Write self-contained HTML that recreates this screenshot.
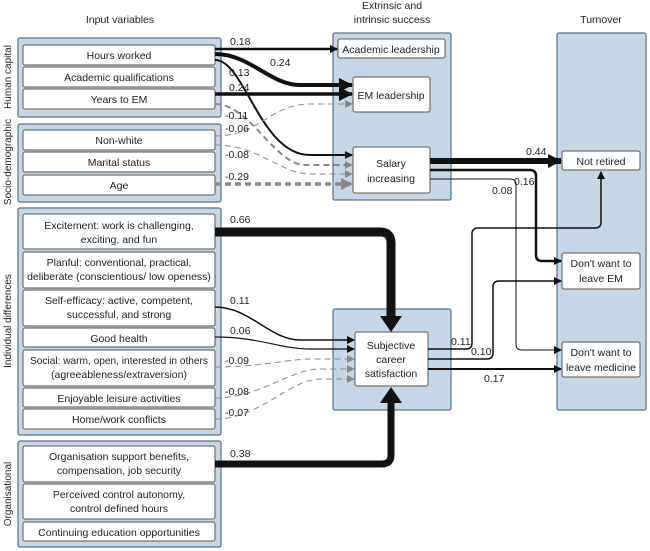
<!DOCTYPE html>
<html><head><meta charset="utf-8"><style>
body{margin:0;background:#fff}
svg{display:block;font-family:"Liberation Sans",Arial,sans-serif}
.p{fill:#c6d7e8;stroke:#5f6f80;stroke-width:1.2}
.b{fill:#fff;stroke:#555;stroke-width:1}
text{font-size:10.5px;fill:#222}
.c{text-anchor:middle}
.r{font-size:10px}
.s{fill:none;stroke:#111}
.d{fill:none;stroke:#888;stroke-dasharray:6,4}
</style></head><body>
<svg width="650" height="551" viewBox="0 0 650 551">
<defs>
<marker id="a" markerWidth="8" markerHeight="8" refX="7" refY="4" orient="auto" markerUnits="userSpaceOnUse"><path d="M0,0L8,4L0,8z" fill="#111"/></marker>
<marker id="g" markerWidth="8" markerHeight="8" refX="7" refY="4" orient="auto" markerUnits="userSpaceOnUse"><path d="M0,0L8,4L0,8z" fill="#888"/></marker>
<marker id="A" markerWidth="14" markerHeight="14" refX="13" refY="7" orient="auto" markerUnits="userSpaceOnUse"><path d="M0,0L14,7L0,14z" fill="#111"/></marker>
<marker id="G" markerWidth="12" markerHeight="12" refX="11" refY="6" orient="auto" markerUnits="userSpaceOnUse"><path d="M0,0L12,6L0,12z" fill="#888"/></marker>
</defs>
<text x="120" y="23" class="c">Input variables</text>
<text x="392" y="9" class="c">Extrinsic and</text>
<text x="392" y="23" class="c">intrinsic success</text>
<text x="601" y="23" class="c">Turnover</text>
<text transform="translate(11,77) rotate(-90)" class="c r">Human capital</text>
<text transform="translate(11,162) rotate(-90)" class="c r">Socio-demographic</text>
<text transform="translate(11,321) rotate(-90)" class="c r">Individual differences</text>
<text transform="translate(11,494) rotate(-90)" class="c r">Organisational</text>
<rect class="p" x="18" y="38" width="203" height="79" rx="2"/>
<rect class="p" x="18" y="124" width="203" height="78" rx="2"/>
<rect class="p" x="18" y="208" width="203" height="227" rx="2"/>
<rect class="p" x="18" y="441" width="203" height="106" rx="2"/>
<rect class="p" x="333" y="33" width="118" height="167" rx="2"/>
<rect class="p" x="333" y="309" width="118" height="101" rx="2"/>
<rect class="p" x="557" y="33" width="89" height="377" rx="2"/>
<g>
<rect class="b" x="23" y="45" width="192" height="20" rx="2"/><text x="119" y="59" class="c">Hours worked</text>
<rect class="b" x="23" y="67" width="192" height="20" rx="2"/><text x="119" y="81" class="c">Academic qualifications</text>
<rect class="b" x="23" y="89" width="192" height="20" rx="2"/><text x="119" y="103" class="c">Years to EM</text>
<rect class="b" x="23" y="130" width="192" height="20" rx="2"/><text x="119" y="144" class="c">Non-white</text>
<rect class="b" x="23" y="152" width="192" height="20" rx="2"/><text x="119" y="166" class="c">Marital status</text>
<rect class="b" x="23" y="175" width="192" height="20" rx="2"/><text x="119" y="189" class="c">Age</text>
<rect class="b" x="23" y="214" width="192" height="35" rx="2"/><text x="119" y="229" class="c">Excitement: work is challenging,</text><text x="119" y="243" class="c">exciting, and fun</text>
<rect class="b" x="23" y="252" width="192" height="36" rx="2"/><text x="119" y="266" class="c">Planful: conventional, practical,</text><text x="119" y="280" class="c">deliberate (conscientious/ low openess)</text>
<rect class="b" x="23" y="290" width="192" height="36" rx="2"/><text x="119" y="304" class="c">Self-efficacy: active, competent,</text><text x="119" y="318" class="c">successful, and strong</text>
<rect class="b" x="23" y="328" width="192" height="19" rx="2"/><text x="119" y="342" class="c">Good health</text>
<rect class="b" x="23" y="350" width="192" height="36" rx="2"/><text x="119" y="364" class="c" textLength="178" lengthAdjust="spacingAndGlyphs">Social: warm, open, interested in others</text><text x="119" y="378" class="c">(agreeableness/extraversion)</text>
<rect class="b" x="23" y="388" width="192" height="19" rx="2"/><text x="119" y="402" class="c">Enjoyable leisure activities</text>
<rect class="b" x="23" y="409" width="192" height="20" rx="2"/><text x="119" y="423" class="c">Home/work conflicts</text>
<rect class="b" x="23" y="446" width="192" height="36" rx="2"/><text x="119" y="460" class="c">Organisation support benefits,</text><text x="119" y="474" class="c">compensation, job security</text>
<rect class="b" x="23" y="484" width="192" height="35" rx="2"/><text x="119" y="498" class="c">Perceived control autonomy,</text><text x="119" y="512" class="c">control defined hours</text>
<rect class="b" x="23" y="522" width="192" height="19" rx="2"/><text x="119" y="536" class="c">Continuing education opportunities</text>
<rect class="b" x="338" y="39" width="107" height="19" rx="2"/><text x="391" y="53" class="c">Academic leadership</text>
<rect class="b" x="353" y="77" width="77" height="35" rx="2"/><text x="391" y="99" class="c">EM leadership</text>
<rect class="b" x="353" y="147" width="77" height="46" rx="2"/><text x="391" y="167" class="c">Salary</text><text x="391" y="182" class="c">increasing</text>
<rect class="b" x="355" y="332" width="73" height="54" rx="2"/><text x="391" y="349" class="c">Subjective</text><text x="391" y="363" class="c">career</text><text x="391" y="377" class="c">satisfaction</text>
<rect class="b" x="562" y="151" width="78" height="19" rx="2"/><text x="601" y="165" class="c">Not retired</text>
<rect class="b" x="562" y="253" width="78" height="36" rx="2"/><text x="601" y="267" class="c">Don't want to</text><text x="601" y="282" class="c">leave EM</text>
<rect class="b" x="562" y="342" width="78" height="35" rx="2"/><text x="601" y="356" class="c">Don't want to</text><text x="601" y="371" class="c">leave medicine</text>
</g>
<path class="s" stroke-width="2.5" d="M215,49H337" marker-end="url(#a)"/>
<path class="s" stroke-width="4" d="M215,54C250,54 270,85 300,85H352" marker-end="url(#A)"/>
<path class="s" stroke-width="2" d="M215,60C245,60 260,155 310,155H352" marker-end="url(#a)"/>
<path class="s" stroke-width="3.5" d="M215,94H352" marker-end="url(#A)"/>
<path class="d" stroke-width="2" d="M215,104C250,104 275,165 305,165H352" marker-end="url(#g)"/>
<path class="d" stroke-width="1" d="M215,136C260,136 270,104 310,104H352" marker-end="url(#g)"/>
<path class="d" stroke-width="1" d="M215,145C260,145 280,174 310,174H352" marker-end="url(#g)"/>
<path class="d" stroke-width="3.5" stroke-dasharray="8,5" d="M215,184H352" marker-end="url(#G)"/>
<path class="s" stroke-width="6" d="M430,161H561" marker-end="url(#A)"/>
<path class="s" stroke-width="2.5" d="M430,170H530Q536,170 536,176V255Q536,261 542,261H561" marker-end="url(#a)"/>
<path class="s" stroke-width="1" d="M430,179H510Q516,179 516,185V344Q516,350 522,350H561" marker-end="url(#a)"/>
<path class="s" stroke-width="9" d="M215,232H380Q391,232 391,243V318"/>
<path d="M380,316L402,316L391,332z" fill="#111"/>
<path class="s" stroke-width="7" d="M215,464H382Q391,464 391,455V402"/>
<path d="M380,403L402,403L391,387z" fill="#111"/>
<path class="s" stroke-width="1.5" d="M215,307C250,307 270,340 300,340H354" marker-end="url(#a)"/>
<path class="s" stroke-width="1.2" d="M215,337C260,337 280,349 310,349H354" marker-end="url(#a)"/>
<path class="d" stroke-width="1" d="M215,367C260,367 290,359 310,359H354" marker-end="url(#g)"/>
<path class="d" stroke-width="1" d="M215,398C260,398 290,369 320,369H354" marker-end="url(#g)"/>
<path class="d" stroke-width="1" d="M215,419C260,419 290,379 320,379H354" marker-end="url(#g)"/>
<path class="s" stroke-width="1.5" d="M428,349H466Q472,349 472,343V234Q472,228 478,228H595Q601,228 601,222V172" marker-end="url(#a)"/>
<path class="s" stroke-width="1.5" d="M428,359H487Q493,359 493,353V287Q493,281 499,281H561" marker-end="url(#a)"/>
<path class="s" stroke-width="2" d="M428,369H561" marker-end="url(#a)"/>
<text x="230" y="45">0.18</text>
<text x="270" y="66">0.24</text>
<text x="229" y="76">0.13</text>
<text x="229" y="91">0.24</text>
<text x="225" y="119">-0.11</text>
<text x="225" y="132">-0.06</text>
<text x="225" y="158">-0.08</text>
<text x="225" y="180">-0.29</text>
<text x="526" y="155">0.44</text>
<text x="514" y="185">0.16</text>
<text x="492" y="194">0.08</text>
<text x="230" y="223">0.66</text>
<text x="230" y="304">0.11</text>
<text x="230" y="334">0.06</text>
<text x="225" y="364">-0.09</text>
<text x="225" y="395">-0.08</text>
<text x="225" y="416">-0.07</text>
<text x="230" y="457">0.38</text>
<text x="451" y="345">0.11</text>
<text x="471" y="355">0.10</text>
<text x="484" y="382">0.17</text>
</svg>
</body></html>
